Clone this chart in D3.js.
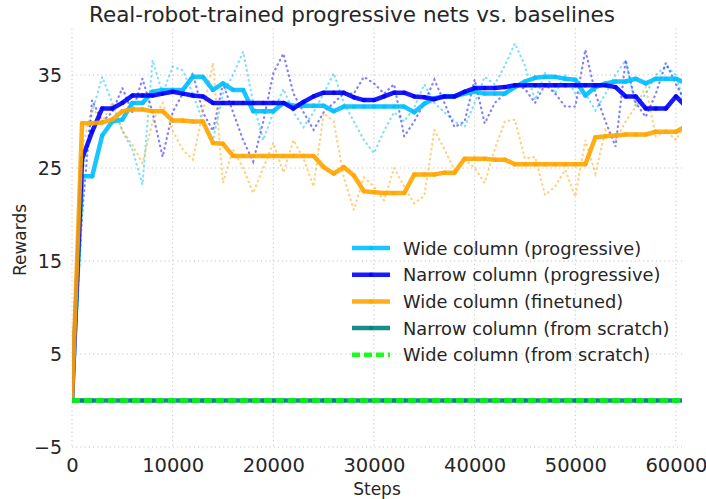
<!DOCTYPE html>
<html>
<head>
<meta charset="utf-8">
<script src="https://cdn.jsdelivr.net/npm/d3@7"></script>
<style>
  body { margin: 0; background: #fff; }
  svg { display: block; }
  text { font-family: "DejaVu Sans", sans-serif; fill: #262626; }
</style>
</head>
<body>
<svg id="chart" width="706" height="499"></svg>
<script>
// ---------------- data ----------------
const stepSize = 1000;
const xTicks = [0, 10000, 20000, 30000, 40000, 50000, 60000];
const yTicks = [-5, 5, 15, 25, 35];
const seriesNames = [
  "Wide column (progressive)",
  "Narrow column (progressive)",
  "Wide column (finetuned)",
  "Narrow column (from scratch)",
  "Wide column (from scratch)"
];

// smoothed curves (thick lines)
const wideProgressive = [0, 24.1, 24.1, 28.5, 30.0, 30.2, 32.0, 32.0, 33.2, 33.4, 33.4, 33.4, 34.8, 34.8, 33.4, 34.1,
  33.4, 33.4, 31.1, 31.1, 31.1, 32.0, 31.7, 31.7, 31.7, 31.7, 31.1, 31.6, 31.6, 31.6, 31.6, 31.6, 31.6, 31.6, 31.0,
  31.9, 32.5, 32.7, 32.7, 33.0, 33.2, 33.0, 33.0, 33.0, 33.7, 34.3, 34.7, 34.8, 34.8, 34.6, 34.5, 32.8, 33.7, 34.1,
  34.3, 34.3, 34.6, 34.1, 34.6, 34.6, 34.6, 34.1];
const narrowProgressive = [0, 26.0, 28.9, 31.4, 31.4, 32.0, 32.8, 32.8, 32.8, 33.0, 33.2, 33.0, 32.8, 32.7, 32.0, 32.0,
  32.0, 32.0, 32.0, 32.0, 32.0, 32.0, 31.4, 32.1, 32.7, 33.1, 33.1, 33.1, 32.6, 32.3, 32.3, 32.7, 33.1, 33.1, 32.7,
  32.6, 32.4, 32.7, 32.7, 33.2, 33.6, 33.6, 33.6, 33.7, 33.9, 33.9, 33.9, 33.9, 33.9, 33.9, 33.9, 33.9, 33.9, 33.9,
  33.7, 32.7, 32.7, 31.4, 31.4, 31.4, 32.7, 31.6];
const wideFinetuned = [0, 29.8, 29.8, 29.9, 30.2, 31.1, 31.3, 31.3, 31.1, 31.1, 30.1, 30.1, 30.0, 30.0, 27.7, 27.6,
  26.3, 26.3, 26.3, 26.3, 26.3, 26.3, 26.3, 26.3, 26.3, 25.1, 24.4, 25.1, 24.2, 22.5, 22.4, 22.3, 22.3, 22.3, 24.3,
  24.3, 24.3, 24.5, 24.5, 26.0, 26.0, 26.0, 25.9, 25.9, 25.4, 25.4, 25.4, 25.4, 25.4, 25.4, 25.4, 25.4, 28.3, 28.4,
  28.5, 28.6, 28.6, 28.6, 28.9, 28.9, 28.9, 29.5];
const narrowScratch = [0, 0, 0, 0, 0, 0, 0, 0, 0, 0, 0, 0, 0, 0, 0, 0, 0, 0, 0, 0, 0, 0, 0, 0, 0, 0, 0, 0, 0, 0, 0,
  0, 0, 0, 0, 0, 0, 0, 0, 0, 0, 0, 0, 0, 0, 0, 0, 0, 0, 0, 0, 0, 0, 0, 0, 0, 0, 0, 0, 0, 0, 0];
const wideScratch = [0, 0, 0, 0, 0, 0, 0, 0, 0, 0, 0, 0, 0, 0, 0, 0, 0, 0, 0, 0, 0, 0, 0, 0, 0, 0, 0, 0, 0, 0, 0,
  0, 0, 0, 0, 0, 0, 0, 0, 0, 0, 0, 0, 0, 0, 0, 0, 0, 0, 0, 0, 0, 0, 0, 0, 0, 0, 0, 0, 0, 0, 0];

// raw curves (dotted lines)
const wideProgressiveRaw = [0, 24, 31, 34.8, 32, 29, 27, 23.2, 36.6, 33, 35.9, 35.5, 33, 30, 28, 33, 35, 37.5, 32, 28,
  31, 33.5, 31, 29.4, 31, 33, 35.2, 32, 30, 28, 26.6, 29, 31, 30, 31.5, 34, 32, 31, 30, 29.4, 32, 34.8, 34, 36, 38.4,
  36, 32.3, 35.2, 33, 35, 33, 33, 31.2, 33, 35, 36.6, 31.6, 33, 35, 36, 35, 31];
const narrowProgressiveRaw = [0, 20, 32.3, 30, 31, 33.6, 31, 34.6, 31, 26.2, 31, 33, 35.2, 31, 29, 34.1, 31, 28, 25.7,
  30, 35.2, 37.3, 33, 31, 29.1, 31, 32, 33, 33, 34.8, 34.1, 33, 34, 28.4, 30, 32, 34.5, 32, 29.4, 30, 34.5, 29.8, 32,
  33, 34, 33.5, 32, 34, 33, 31.6, 31.6, 37.7, 33, 30, 27.3, 36.6, 32, 30.5, 33, 36.3, 34, 32];
const wideFinetunedRaw = [0, 27, 31.5, 30, 32, 29, 27.5, 25.5, 30, 32, 29, 27, 25.9, 31, 36.3, 23.4, 27, 25, 22.3, 25,
  27.7, 24.5, 28, 26, 23, 30.9, 30, 24, 20.5, 24, 23, 21.5, 25, 23, 21.2, 22, 29.1, 27, 24.8, 26, 25, 23.4, 27, 30,
  30.2, 26, 26.2, 22.1, 23, 24.8, 21.9, 28, 24.4, 29.1, 28, 30, 31.6, 33.7, 28.4, 29, 28, 30];

const colors = ["#00bfff", "#0000ff", "#ffa500", "#008080", "#00ff00"];

// ---------------- layout ----------------
const svg = d3.select("#chart");
const pLeft = 72, pRight = 682, pTop = 28.5, pBottom = 447;
const x = d3.scaleLinear().domain([0, 60600]).range([pLeft, pRight]);
const y = d3.scaleLinear().domain([-5, 40]).range([pBottom, pTop]);

const steps = wideProgressive.map((_, i) => i * stepSize);

// grid
const grid = svg.append("g");
grid.selectAll("line.vx").data(xTicks).enter().append("line")
  .attr("x1", d => x(d)).attr("x2", d => x(d)).attr("y1", pTop).attr("y2", pBottom)
  .attr("stroke", "#c4c4c4").attr("stroke-width", 1).attr("stroke-dasharray", "1.2,3");
grid.selectAll("line.hy").data(yTicks).enter().append("line")
  .attr("x1", pLeft).attr("x2", pRight).attr("y1", d => y(d)).attr("y2", d => y(d))
  .attr("stroke", "#c4c4c4").attr("stroke-width", 1).attr("stroke-dasharray", "1.2,3");

// axes (labels only)
const xAxis = d3.axisBottom(x).tickValues(xTicks).tickSize(0).tickPadding(11).tickFormat(d3.format("d"));
const gx = svg.append("g").attr("transform", `translate(0,${pBottom})`).call(xAxis);
gx.select(".domain").remove();
gx.selectAll("text").attr("font-size", 19.5).style("font-family", "DejaVu Sans").attr("fill", "#262626");

const yAxis = d3.axisLeft(y).tickValues(yTicks).tickSize(0).tickPadding(10)
  .tickFormat(d => d < 0 ? "\u2212" + Math.abs(d) : String(d));
const gy = svg.append("g").attr("transform", `translate(${pLeft},0)`).call(yAxis);
gy.select(".domain").remove();
gy.selectAll("text").attr("font-size", 19).style("font-family", "DejaVu Sans").attr("fill", "#262626");

// clip
svg.append("clipPath").attr("id", "clip").append("rect")
  .attr("x", pLeft).attr("y", pTop).attr("width", pRight - pLeft).attr("height", pBottom - pTop);
const plot = svg.append("g").attr("clip-path", "url(#clip)");

const line = d3.line().x((d, i) => x(steps[i])).y(d => y(d));

// dotted raw lines
[[wideProgressiveRaw, 0], [narrowProgressiveRaw, 1], [wideFinetunedRaw, 2]].forEach(([arr, ci]) => {
  plot.append("path").datum(arr).attr("d", line)
    .attr("fill", "none").attr("stroke", colors[ci]).attr("stroke-opacity", 0.5)
    .attr("stroke-width", 2.2).attr("stroke-linecap", "round").attr("stroke-dasharray", "0.6,4.4");
});

// thick lines
const thick = [wideProgressive, narrowProgressive, wideFinetuned, narrowScratch, wideScratch];
thick.forEach((arr, ci) => {
  const g = plot.append("g");
  g.append("path").datum(arr).attr("d", line)
    .attr("fill", "none").attr("stroke", colors[ci]).attr("stroke-opacity", 0.9)
    .attr("stroke-width", 4.5).attr("stroke-linejoin", "round")
    .attr("stroke-dasharray", ci === 4 ? "8,4" : null);
  if (ci !== 4) {
    g.selectAll("circle").data(arr).enter().append("circle")
      .attr("cx", (d, i) => x(steps[i])).attr("cy", d => y(d)).attr("r", 2.2)
      .attr("fill", colors[ci]).attr("fill-opacity", 0.8);
  }
});

// title & axis labels
svg.append("text").attr("x", 352).attr("y", 22).attr("text-anchor", "middle")
  .attr("font-size", 21.5).text("Real-robot-trained progressive nets vs. baselines");
svg.append("text").attr("x", 377).attr("y", 495).attr("text-anchor", "middle")
  .attr("font-size", 17).text("Steps");
svg.append("text").attr("transform", "translate(26,240) rotate(-90)").attr("text-anchor", "middle")
  .attr("font-size", 17).text("Rewards");

// legend
const legend = svg.append("g");
seriesNames.forEach((name, i) => {
  const ly = 248 + i * 26.7;
  legend.append("line").attr("x1", 352).attr("x2", 390).attr("y1", ly).attr("y2", ly)
    .attr("stroke", colors[i]).attr("stroke-opacity", 0.9).attr("stroke-width", 4.5)
    .attr("stroke-dasharray", i === 4 ? "8,4" : null);
  if (i !== 4) {
    legend.append("circle").attr("cx", 371).attr("cy", ly).attr("r", 2.2)
      .attr("fill", colors[i]).attr("fill-opacity", 0.8);
  }
  legend.append("text").attr("x", 403).attr("y", ly + 6.5).attr("font-size", 17.8).text(name);
});
</script>
</body>
</html>
